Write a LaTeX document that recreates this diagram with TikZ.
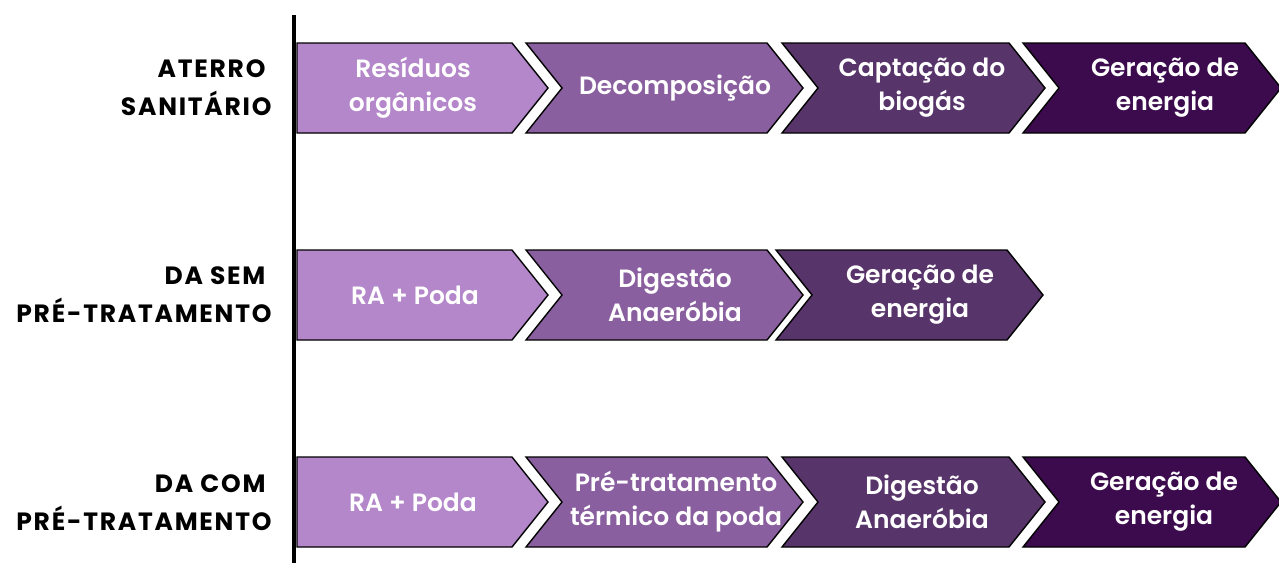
\documentclass[tikz,border=0pt]{standalone}
\usepackage{fontspec}
\setmainfont{Poppins}
\newfontfamily\negrito{Poppins Bold}[LetterSpace=7]
\newfontfamily\seminegrito{Poppins SemiBold}
\usepackage{tikz}

\definecolor{roxoA}{HTML}{B387CA}
\definecolor{roxoB}{HTML}{8A5F9F}
\definecolor{roxoC}{HTML}{573469}
\definecolor{roxoD}{HTML}{3C0B4E}

\tikzset{
  seta/.style={draw=black, line width=1.4pt, line join=miter},
  texto/.style={text=white, align=center, font=\seminegrito\fontsize{25}{34}\selectfont},
  rotulo/.style={anchor=east, align=right, font=\negrito\fontsize{25}{38}\selectfont}
}

% #1 nome, #2 x esquerdo, #3 x direito, #4 y topo, #5 entalhe, #6 cor, #7 x do texto, #8 texto
\newcommand{\etapa}[8]{
  \draw[seta, fill=#6] (#2,#4) -- (#3,#4) -- ++(36,45) -- (#3,#4+90) -- (#2,#4+90) -- ++(#5,-45) -- cycle;
  \node[texto] (#1) at (#7,#4+45) {#8};
}

\begin{document}
\begin{tikzpicture}[x=1pt, y=-1pt]
\useasboundingbox (0,0) rectangle (1279,563);
\fill[white] (0,0) rectangle (1279,563);

\draw[line width=4pt] (294,15) -- (294,563);

\node[rotulo] (aterro) at (275,88) {ATERRO\kern6pt\\SANITÁRIO};
\node[rotulo] (dasem) at (275,295) {DA SEM\kern6pt\\PRÉ-TRATAMENTO};
\node[rotulo] (dacom) at (275,503) {DA COM\kern6pt\\PRÉ-TRATAMENTO};

\etapa{residuos}{297}{512}{43}{0}{roxoA}{413}{Resíduos\\orgânicos}
\etapa{decomp}{526}{767}{43}{36}{roxoB}{675}{Decomposição}
\etapa{captacao}{782}{1009}{43}{36}{roxoC}{922}{Captação do\\biogás}
\etapa{geracaoA}{1023}{1245}{43}{36}{roxoD}{1165}{Geração de\\energia}

\etapa{rapodaA}{297}{512}{250}{0}{roxoA}{415}{RA + Poda}
\etapa{digestaoA}{526}{767}{250}{36}{roxoB}{675}{Digestão\\Anaeróbia}
\etapa{geracaoB}{776}{1007}{250}{36}{roxoC}{920}{Geração de\\energia}

\etapa{rapodaB}{297}{512}{457}{0}{roxoA}{413}{RA + Poda}
\etapa{pretrat}{526}{767}{457}{36}{roxoB}{676}{Pré-tratamento\\térmico da poda}
\etapa{digestaoB}{782}{1009}{457}{36}{roxoC}{922}{Digestão\\Anaeróbia}
\etapa{geracaoC}{1023}{1245}{457}{36}{roxoD}{1164}{Geração de\\energia}
\end{tikzpicture}
\end{document}
